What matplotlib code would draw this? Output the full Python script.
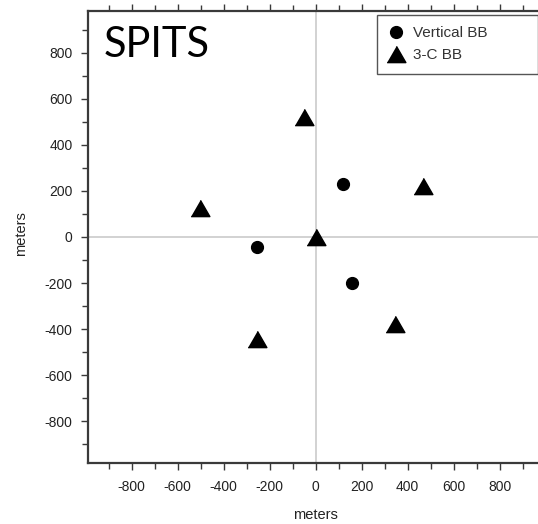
import matplotlib
matplotlib.use("Agg")
import matplotlib.pyplot as plt
from matplotlib.ticker import MultipleLocator, FixedLocator

# Data (meters)
vert_x = [120, -256, 157]
vert_y = [228, -42, -201]
tri_x = [-49, -503, 467, 0, 343, -256]
tri_y = [523, 127, 223, 1, -378, -443]
tick_vals = [-800, -600, -400, -200, 0, 200, 400, 600, 800]
tick_labels = ["-800", "-600", "-400", "-200", "0", "200", "400", "600", "800"]

W, H = 538, 524
fig = plt.figure(figsize=(W / 100, H / 100), dpi=100)
ax = fig.add_axes([88 / W, 61 / H, 450 / W, 452 / H])
ax.set_xlim(-990, 967)
ax.set_ylim(-981, 981)

spine_col = "#3a3a3a"
for s in ["left", "bottom", "top"]:
    ax.spines[s].set_color(spine_col)
    ax.spines[s].set_linewidth(1.6)
ax.spines["right"].set_visible(False)

ax.axhline(0, color="#cfcfcf", lw=1.3, zorder=1)
ax.axvline(0, color="#cfcfcf", lw=1.3, zorder=1)

tri = [(-1, -0.866), (1, -0.866), (0, 0.866)]
ax.plot(vert_x, vert_y, linestyle="none", marker="o", ms=8.5, color="black",
        label="Vertical BB", zorder=3)
ax.plot(tri_x, tri_y, linestyle="none", marker=tri, ms=13.5, color="black",
        label="3-C BB", zorder=3)

ax.xaxis.set_major_locator(FixedLocator(tick_vals))
ax.yaxis.set_major_locator(FixedLocator(tick_vals))
ax.set_xticklabels(tick_labels)
ax.set_yticklabels(tick_labels)
ax.xaxis.set_minor_locator(MultipleLocator(100))
ax.yaxis.set_minor_locator(MultipleLocator(100))
ax.tick_params(which="both", direction="out", color=spine_col, width=1.0,
               top=True, right=False, labelsize=10, labelcolor="#222222",
               labelfontfamily="Liberation Sans")
ax.tick_params(which="major", length=5)
ax.tick_params(which="minor", length=4)
ax.tick_params(axis="x", pad=7)
ax.tick_params(axis="y", pad=6)

ax.set_xlabel("meters", fontsize=10.5, family="Liberation Sans", color="#222222")
ax.set_ylabel("meters", fontsize=10.5, family="Liberation Sans", color="#222222")
ax.xaxis.set_label_coords((315 - 88) / 450, -(508 - 463) / 452)
ax.yaxis.set_label_coords(-(88 - 28) / 450, (463 - 234) / 452)

fs = 11
px_per_em = fs * 100 / 72
leg = ax.legend(loc="upper left", mode="expand",
                bbox_to_anchor=(377 / W, 0, 161 / W, 1 - 15 / H),
                bbox_transform=fig.transFigure, borderaxespad=0,
                fancybox=False, edgecolor="#555555", framealpha=1,
                prop={"family": "Liberation Sans", "size": fs},
                handlelength=16 / px_per_em, handletextpad=9 / px_per_em,
                borderpad=0.75, labelspacing=0.5, markerscale=1.0)
leg.get_frame().set_linewidth(1.0)
for t in leg.get_texts():
    t.set_color("#333333")

fig.text(104 / W, 1 - 57 / H, "SPITS", fontsize=30, family="Lato",
         color="black", ha="left", va="baseline")

fig.savefig("out.png", dpi=100)
